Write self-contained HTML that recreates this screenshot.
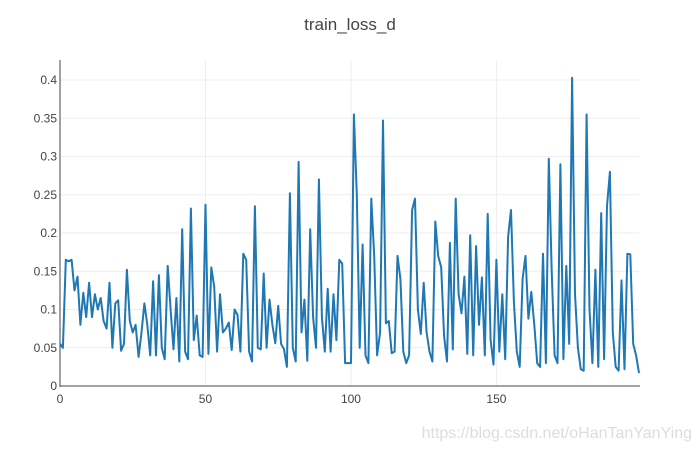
<!DOCTYPE html>
<html><head><meta charset="utf-8"><style>
body{margin:0;background:#fff;font-family:"Liberation Sans",sans-serif}
</style></head><body>
<svg id="chart" width="700" height="450" xmlns="http://www.w3.org/2000/svg">
<text x="350" y="30" text-anchor="middle" font-size="17" fill="#444">train_loss_d</text>
<g id="grid"></g><g id="axes"></g>
<path id="line" fill="none" stroke="#1f77b4" stroke-width="2" stroke-linejoin="round"/>
<text x="692" y="438" text-anchor="end" font-size="16" fill="#ddd">https://blog.csdn.net/oHanTanYanYing</text>
</svg>
<script>
const values=[0.055,0.05,0.165,0.163,0.165,0.125,0.143,0.08,0.122,0.09,0.135,0.09,0.12,0.10,0.115,0.085,0.075,0.135,0.05,0.108,0.112,0.046,0.055,0.152,0.085,0.07,0.08,0.038,0.07,0.108,0.08,0.04,0.137,0.04,0.145,0.05,0.035,0.157,0.1,0.048,0.115,0.032,0.205,0.045,0.035,0.232,0.06,0.092,0.04,0.038,0.237,0.042,0.155,0.13,0.045,0.12,0.07,0.075,0.083,0.047,0.1,0.093,0.045,0.173,0.165,0.045,0.032,0.235,0.05,0.048,0.147,0.05,0.113,0.08,0.056,0.105,0.055,0.048,0.025,0.252,0.05,0.032,0.293,0.07,0.113,0.033,0.205,0.09,0.05,0.27,0.09,0.045,0.127,0.045,0.12,0.06,0.165,0.16,0.03,0.03,0.03,0.355,0.25,0.05,0.185,0.04,0.03,0.245,0.17,0.04,0.07,0.347,0.082,0.085,0.043,0.045,0.17,0.14,0.045,0.03,0.04,0.23,0.245,0.1,0.068,0.135,0.07,0.045,0.032,0.215,0.17,0.155,0.065,0.032,0.187,0.048,0.245,0.12,0.095,0.143,0.042,0.197,0.04,0.183,0.08,0.142,0.04,0.225,0.06,0.028,0.165,0.045,0.12,0.035,0.195,0.23,0.11,0.045,0.025,0.14,0.17,0.088,0.123,0.08,0.03,0.025,0.173,0.03,0.297,0.15,0.04,0.03,0.29,0.035,0.157,0.055,0.403,0.12,0.05,0.022,0.02,0.355,0.1,0.03,0.152,0.025,0.226,0.035,0.235,0.28,0.07,0.025,0.02,0.138,0.022,0.173,0.172,0.055,0.04,0.017];
const xTicks=[0,50,100,150];
const yTicks=[0,0.05,0.1,0.15,0.2,0.25,0.3,0.35,0.4];
const X0=60,X1=639,Y0=386,Y1=80;
const xMax=values.length-1;
function xs(i){return X0+(X1-X0)*i/xMax;}
function ys(v){return Y0-(Y0-Y1)*v/0.4;}
const NS="http://www.w3.org/2000/svg";
const grid=document.getElementById('grid'),axes=document.getElementById('axes');
function mk(tag,attrs,parent){const e=document.createElementNS(NS,tag);for(const k in attrs)e.setAttribute(k,attrs[k]);parent.appendChild(e);return e;}
yTicks.forEach(t=>{const y=ys(t);
 if(t>0){const g=mk('line',{x1:X0,x2:X1,y1:y,y2:y,stroke:'#eee'},grid);
 
 }
 const tx=mk('text',{x:X0-3,y:y+4,'text-anchor':'end','font-size':12,fill:'#444'},axes);
 tx.textContent=String(t);
 
 });
xTicks.forEach(t=>{const x=xs(t);
 if(t>0){const g=mk('line',{x1:x,x2:x,y1:60,y2:Y0,stroke:'#eee'},grid);
 
 }
 const tx=mk('text',{x:x,y:Y0+17,'text-anchor':'middle','font-size':12,fill:'#444'},axes);
 tx.textContent=String(t);
 
 });
const ya=mk('line',{x1:X0,x2:X0,y1:60,y2:Y0+1,stroke:'#444','stroke-width':1},axes);


const xa=mk('line',{x1:X0,x2:X1+1,y1:Y0,y2:Y0,stroke:'#444','stroke-width':1},axes);


document.getElementById('line').setAttribute('d',values.map((v,i)=>(i?'L':'M')+xs(i).toFixed(1)+','+ys(v).toFixed(1)).join(''));
</script>
</body></html>
